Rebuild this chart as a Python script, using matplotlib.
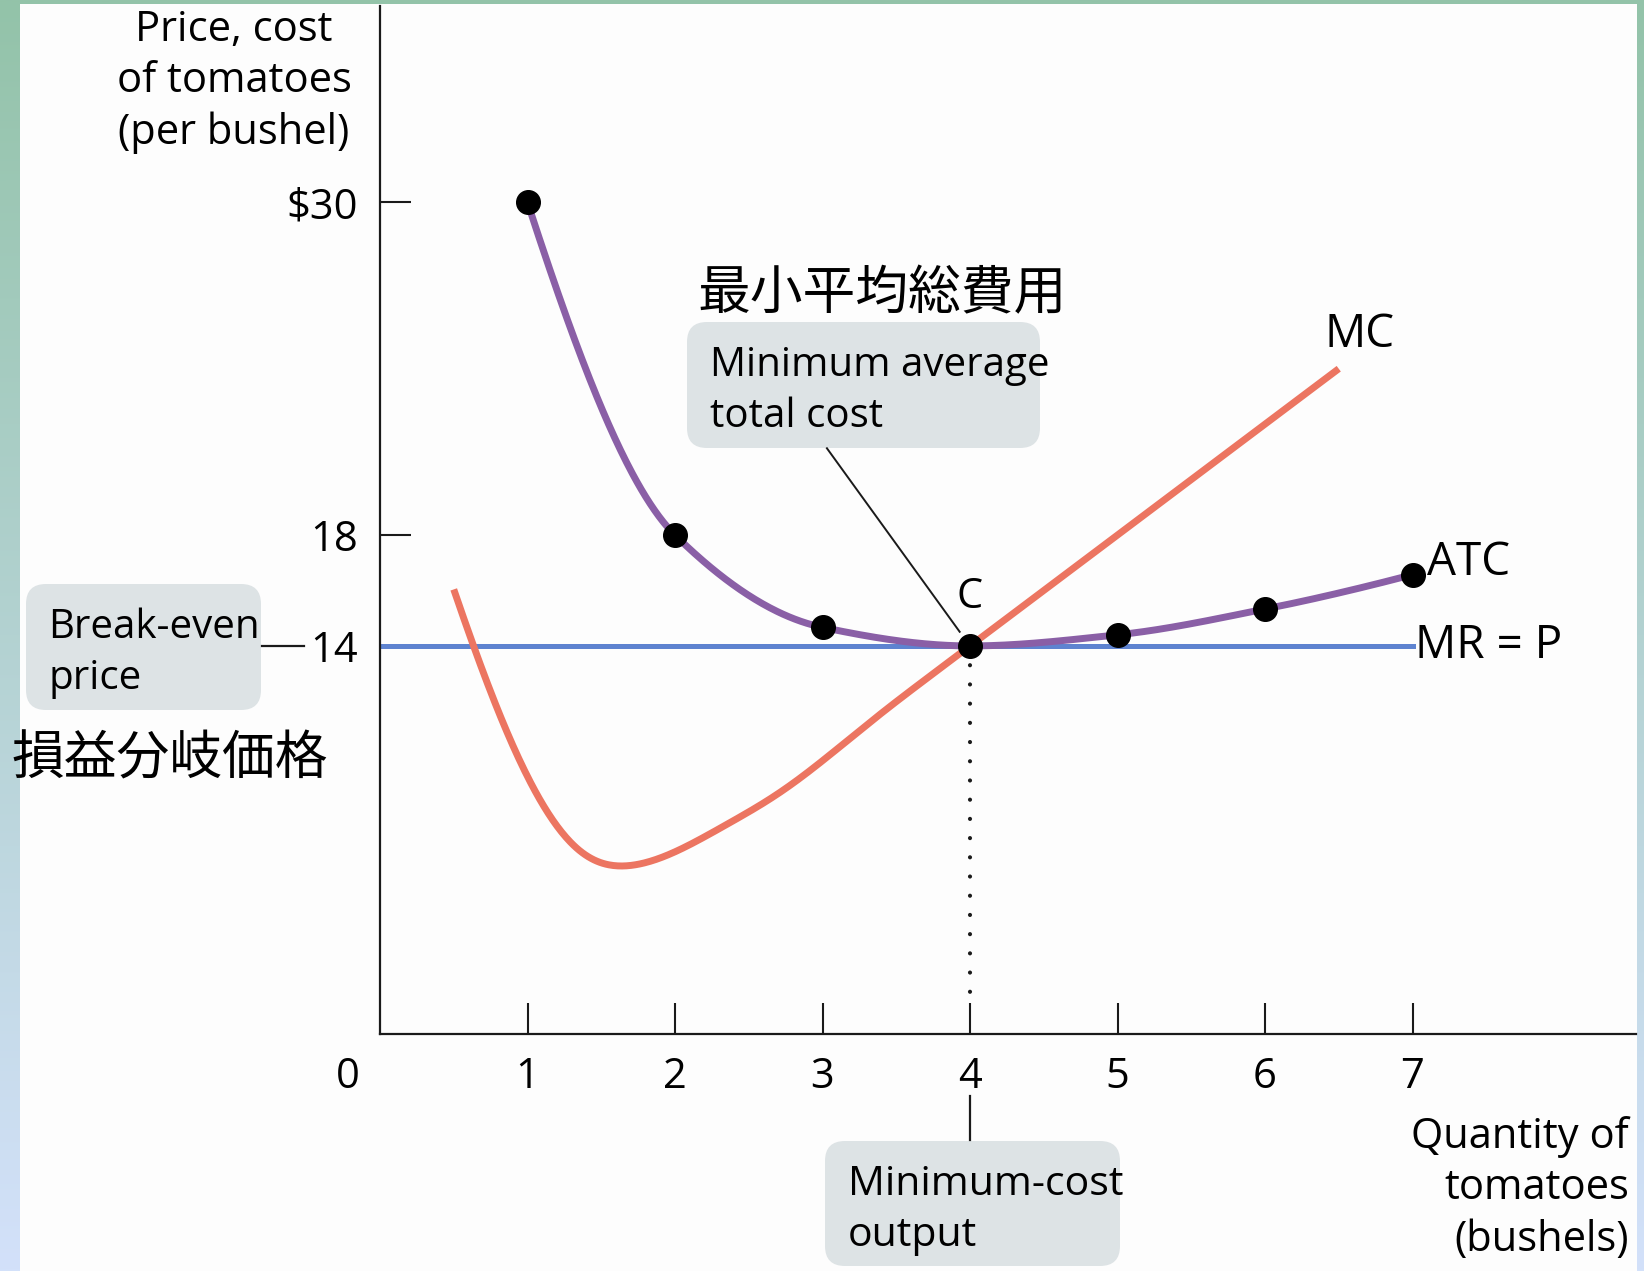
import numpy as np
import matplotlib
matplotlib.use("Agg")
import matplotlib.pyplot as plt
from matplotlib.patches import FancyBboxPatch, Rectangle

plt.rcParams["font.family"] = ["Open Sans", "Noto Sans CJK JP", "DejaVu Sans"]

# cost schedule for the tomato farm
quantity = [1, 2, 3, 4, 5, 6, 7]
atc = [30.0, 18.0, 14.67, 14.0, 14.4, 15.33, 16.57]
mc_quantity = [0.5, 1.5, 2.5, 3.5, 4.5, 5.5, 6.5]
mc = [16.0, 6.0, 8.0, 12.0, 16.0, 20.0, 24.0]
price = 14.0
min_cost_q = 4
price_ticks = [14, 18, 30]
price_labels = ["14", "18", "$30"]
q_labels = ["1", "2", "3", "4", "5", "6", "7"]

col_atc = "#8A5FA6"
col_mc = "#EC7561"
col_mr = "#5E83D0"
col_box = "#DDE3E5"


def smooth_curve(xs, ys, num=600, blend=0.0):
	# cubic hermite through the schedule points; tangents are monotone (pchip)
	# slopes, optionally mixed with catmull-rom slopes for a rounder turn
	x = np.asarray(xs, float)
	y = np.asarray(ys, float)
	h = np.diff(x)
	delta = np.diff(y) / h
	d = np.zeros_like(y)
	for k in range(1, len(x) - 1):
		if delta[k - 1] * delta[k] > 0:
			w1 = 2 * h[k] + h[k - 1]
			w2 = h[k] + 2 * h[k - 1]
			d[k] = (w1 + w2) / (w1 / delta[k - 1] + w2 / delta[k])
		cr = (y[k + 1] - y[k - 1]) / (x[k + 1] - x[k - 1])
		d[k] = (1 - blend) * d[k] + blend * cr

	def end_slope(h0, h1, d0, d1):
		s = ((2 * h0 + h1) * d0 - h0 * d1) / (h0 + h1)
		if np.sign(s) != np.sign(d0):
			s = 0.0
		elif np.sign(d0) != np.sign(d1) and abs(s) > abs(3 * d0):
			s = 3 * d0
		return s

	d[0] = end_slope(h[0], h[1], delta[0], delta[1])
	d[-1] = end_slope(h[-1], h[-2], delta[-1], delta[-2])
	xx = np.linspace(x[0], x[-1], num)
	i = np.clip(np.searchsorted(x, xx) - 1, 0, len(x) - 2)
	t = (xx - x[i]) / h[i]
	h00 = 2 * t**3 - 3 * t**2 + 1
	h10 = t**3 - 2 * t**2 + t
	h01 = -2 * t**3 + 3 * t**2
	h11 = t**3 - t**2
	yy = h00 * y[i] + h10 * h[i] * d[i] + h01 * y[i + 1] + h11 * h[i] * d[i + 1]
	return xx, yy


def soften(xx, yy, sigma):
	# gaussian blur of the curve along x; ends are extended linearly first
	step = xx[1] - xx[0]
	n = int(3 * sigma / step)
	k = np.arange(-n, n + 1) * step
	w = np.exp(-0.5 * (k / sigma) ** 2)
	w /= w.sum()
	left = yy[0] + (yy[1] - yy[0]) * np.arange(-n, 0)
	right = yy[-1] + (yy[-1] - yy[-2]) * np.arange(1, n + 1)
	return np.convolve(np.concatenate([left, yy, right]), w, mode="valid")


W, H = 1644, 1271
fig = plt.figure(figsize=(W / 100, H / 100), dpi=100)

# slide background: gradient frame with a white panel, pixel coordinates
bg = fig.add_axes([0, 0, 1, 1], zorder=0)
bg.set_xlim(0, W)
bg.set_ylim(H, 0)
bg.axis("off")
top_col = np.array([0x93, 0xC3, 0xA9]) / 255.0
bot_col = np.array([0xD3, 0xE1, 0xFA]) / 255.0
ramp = np.linspace(0, 1, 256)[:, None]
grad = (top_col * (1 - ramp) + bot_col * ramp).reshape(256, 1, 3)
bg.imshow(grad, extent=[0, W, H, 0], aspect="auto", interpolation="bilinear")
bg.add_patch(Rectangle((20, 4), 1617, H, fc="#FDFDFD", ec="none"))


def note_box(x0, y0, x1, y1, r=20):
	bg.add_patch(FancyBboxPatch(
		(x0 + r, y0 + r), x1 - x0 - 2 * r, y1 - y0 - 2 * r,
		boxstyle="round,pad={0},rounding_size={0}".format(r),
		fc=col_box, ec="none"))


note_box(687, 322, 1040, 448)
bg.text(710, 391, "Minimum average\ntotal cost", fontsize=29, ha="left", va="center", linespacing=1.35)
note_box(26, 584, 261, 710)
bg.text(48, 653, "Break-even\nprice", fontsize=29, ha="left", va="center", linespacing=1.35)
note_box(825, 1141, 1120, 1266)
bg.text(848, 1210, "Minimum-cost\noutput", fontsize=29.5, ha="left", va="center", linespacing=1.35)

bg.text(234, 9, "Price, cost\nof tomatoes\n(per bushel)", fontsize=30, ha="center", va="top",
	multialignment="center", linespacing=1.29)
bg.text(1629, 1116, "Quantity of\ntomatoes\n(bushels)", fontsize=30, ha="right", va="top",
	multialignment="right", linespacing=1.29)

bg.text(697, 294, "最小平均総費用", fontsize=38, ha="left", va="center", family=["Noto Sans CJK JP"])
bg.text(11, 759, "損益分岐価格", fontsize=38, ha="left", va="center", family=["Noto Sans CJK JP"])

# cost curves
ax = fig.add_axes([380 / W, 1 - 1034 / H, (1636 - 380) / W, (1034 - 6) / H], zorder=2)
ax.set_xlim(0, (1636 - 380) / 147.5)
ax.set_ylim(0, (1034 - 6) / 27.72)
ax.patch.set_alpha(0)
for side in ["top", "right"]:
	ax.spines[side].set_visible(False)
for side in ["left", "bottom"]:
	ax.spines[side].set_linewidth(1.6)
	ax.spines[side].set_color("#1a1a1a")

ax.set_xticks(quantity, q_labels)
ax.set_yticks(price_ticks, price_labels)
ax.tick_params(axis="x", direction="in", length=22, width=1.5, pad=16, labelsize=30, color="#1a1a1a")
ax.tick_params(axis="y", direction="in", length=22, width=1.5, pad=16, labelsize=30, color="#1a1a1a")
ax.annotate("0", xy=(-0.22, 0), xytext=(0, -16), textcoords="offset points",
	ha="center", va="top", fontsize=30, annotation_clip=False)

ax.plot([0, quantity[-1]], [price, price], color=col_mr, lw=3.6, zorder=2)
x_atc, y_atc = smooth_curve(quantity, atc)
ax.plot(x_atc, y_atc, color=col_atc, lw=5, zorder=3)
x_mc, y_mc = smooth_curve(mc_quantity, mc, blend=0.25)
y_mc = soften(x_mc, y_mc, 0.15)
ax.plot(x_mc, y_mc, color=col_mc, lw=5, zorder=4, solid_capstyle="butt")
ax.plot(quantity, atc, "o", color="black", ms=17, zorder=6)

# minimum-cost output guide
ax.plot([min_cost_q, min_cost_q], [price, 1.3], color="#1a1a1a", lw=3,
	linestyle=(0, (0.01, 4.6)), dash_capstyle="round", zorder=1)
ax.plot([min_cost_q, min_cost_q], [-2.24, -3.83], color="#1a1a1a", lw=1.6, clip_on=False)
ax.plot([3.03, 3.93], [21.13, 14.51], color="#1a1a1a", lw=1.4)
ax.plot([-0.80, -0.515], [price, price], color="#1a1a1a", lw=1.6, clip_on=False)

ax.text(6.64, 25.2, "MC", fontsize=33, ha="center", va="center")
ax.text(7.1, 17.0, "ATC", fontsize=33, ha="left", va="center")
ax.text(7.02, price, "MR = P", fontsize=33, ha="left", va="center")
ax.text(min_cost_q, 15.75, "C", fontsize=30, ha="center", va="center")

fig.savefig("out.png", dpi=100)
